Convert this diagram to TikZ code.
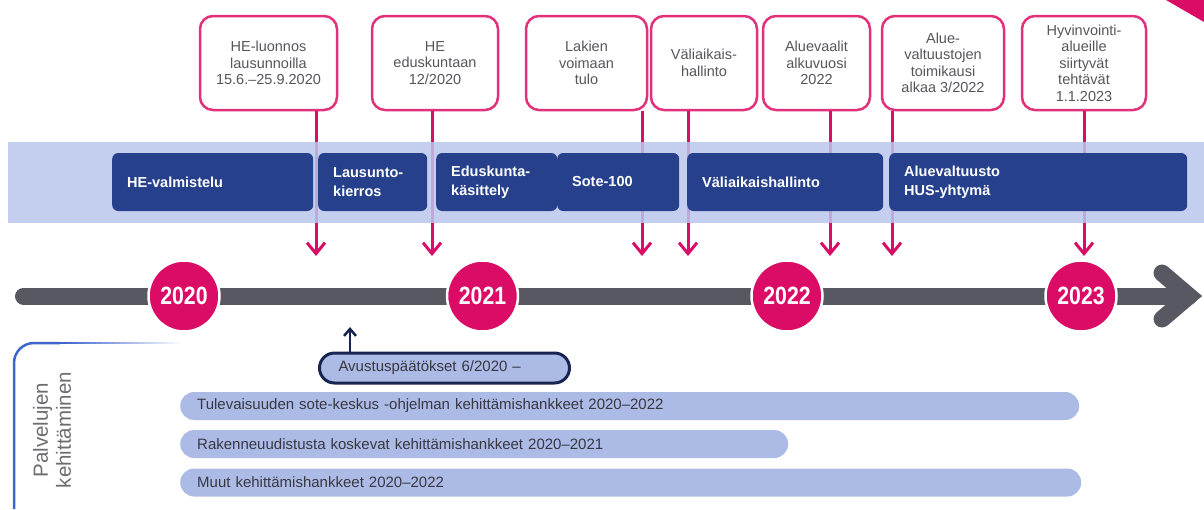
\documentclass[tikz,border=0pt]{standalone}
\usepackage{fontspec}
\setmainfont{Liberation Sans}
\newfontfamily\yearfont[FakeStretch=0.85]{Liberation Sans}
\usetikzlibrary{arrows.meta}
\definecolor{hotpink}{RGB}{218,12,102}
\definecolor{calloutpink}{RGB}{226,48,122}
\definecolor{bandblue}{RGB}{186,198,236}
\definecolor{phaseblue}{RGB}{38,64,140}
\definecolor{barblue}{RGB}{172,186,230}
\definecolor{navyline}{RGB}{24,36,82}
\definecolor{axisgray}{RGB}{88,88,98}
\definecolor{textgray}{RGB}{86,86,92}
\definecolor{textdark}{RGB}{56,56,66}
\definecolor{labelgray}{RGB}{108,108,114}
\definecolor{bracketblue}{RGB}{62,100,205}
\tikzset{
    callout/.style={draw=calloutpink,line width=2.5pt,rounded corners=13pt,fill=white,minimum height=94pt,inner sep=2pt,align=center,text=textgray,font=\fontsize{14.5}{16.5}\selectfont},
    conn/.style={-{Straight Barb[length=11pt,width=18pt]},hotpink,line width=3pt},
    phase/.style={fill=phaseblue,rounded corners=6pt,minimum height=58pt,inner xsep=15pt,anchor=west,align=left,text=white,font=\fontsize{14.5}{19}\selectfont\bfseries},
    year/.style={circle,fill=hotpink,draw=white,line width=2.5pt,minimum size=71pt,inner sep=0pt,text=white,font=\fontsize{25}{25}\yearfont\bfseries},
    grant/.style={draw=navyline,line width=3pt,fill=barblue,rounded corners=15pt,minimum height=30pt,inner xsep=19pt,anchor=west,align=left,text=textdark,font=\fontsize{15}{18}\selectfont},
    projbar/.style={fill=barblue,rounded corners=14pt,minimum height=28pt,inner xsep=17pt,anchor=west,align=left,text=textdark,font=\fontsize{15}{18}\selectfont},
}

\begin{document}
\begin{tikzpicture}[x=1pt,y=-1pt,axis/.style={axisgray,line width=17pt,line cap=round}]
    \useasboundingbox (0,0) rectangle (1204,509);
    \fill[hotpink] (1166,0) -- (1204,0) -- (1204,22) -- cycle;

    % milestones
    \node[callout,minimum width=137pt] (c1) at (268.5,63) {HE-luonnos\\lausunnoilla\\15.6.–25.9.2020};
    \node[callout,minimum width=126pt] (c2) at (435,63) {HE\\eduskuntaan\\12/2020};
    \node[callout,minimum width=121pt] (c3) at (586.5,63) {Lakien\\voimaan\\tulo};
    \node[callout,minimum width=106pt] (c4) at (704,63) {Väliaikais-\\hallinto};
    \node[callout,minimum width=107pt] (c5) at (816.5,63) {Aluevaalit\\alkuvuosi\\2022};
    \node[callout,minimum width=122pt] (c6) at (943,63) {Alue-\\valtuustojen\\toimikausi\\alkaa 3/2022};
    \node[callout,minimum width=124pt] (c7) at (1084,63) {Hyvinvointi-\\alueille\\siirtyvät\\tehtävät\\1.1.2023};
    \foreach \c/\x in {c1/316,c2/432,c3/642,c4/688,c5/830,c6/892,c7/1084} {
        \coordinate (t\c) at (\x,256);
        \draw[conn] (\c.south -| t\c) -- (t\c);
    };

    % phases
    \fill[bandblue,opacity=0.85] (8,142) rectangle (1204,223);
    \node[phase,text width=171pt] (p1) at (112,182) {HE-valmistelu};
    \node[phase,text width=79pt] (p2) at (318,182) {Lausunto-\\kierros};
    \node[phase,text width=91pt] (p3) at (436,182) {Eduskunta-\\käsittely};
    \node[phase,text width=92pt] (p4) at (557,182) {Sote-100};
    \node[phase,text width=166pt] (p5) at (687,182) {Väliaikaishallinto};
    \node[phase,text width=268pt] (p6) at (889,182) {Aluevaltuusto\\HUS-yhtymä};

    % timeline
    \draw[axis] (23.5,296) -- (1189,296);
    \draw[axis,line join=miter] (1162,273) -- (1189,296) -- (1162,319);
    \foreach \yr/\x in {2020/184,2021/482.5,2022/787,2023/1081}
        \node[year] (y\yr) at (\x,296) {\yr};

    % development projects
    \draw[bracketblue,line width=2.5pt,rounded corners=20pt] (14,509) -- (14,343) -- (60,343);
    \foreach \i [evaluate=\i as \p using 100-\i*5] in {0,...,19}
        \draw[bracketblue!\p!white,line width=2.5pt] (60+\i*6,343) -- (66+\i*6,343);
    \node[rotate=90,align=center,text=labelgray,font=\fontsize{20.5}{23}\selectfont] (lbl) at (52,430) {Palvelujen\\kehittäminen};

    \node[grant,text width=212pt] (avus) at (318,368) {Avustuspäätökset 6/2020 –};
    \coordinate (up) at (350,327);
    \draw[-{Straight Barb[length=7pt,width=12pt]},navyline,line width=2.5pt] (avus.north -| up) -- (up);

    \node[projbar,text width=865pt] (b1) at (180,406) {Tulevaisuuden sote-keskus -ohjelman kehittämishankkeet 2020–2022};
    \node[projbar,text width=574pt] (b2) at (180,444) {Rakenneuudistusta koskevat kehittämishankkeet 2020–2021};
    \node[projbar,text width=867pt] (b3) at (180,482.5) {Muut kehittämishankkeet 2020–2022};
\end{tikzpicture}
\end{document}
